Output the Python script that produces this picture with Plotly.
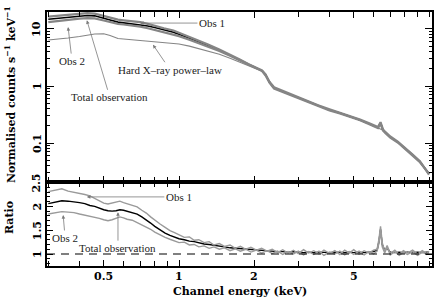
import math
import plotly.graph_objects as go

# ---------------- data ----------------
energy_top = [0.3, 0.33, 0.36, 0.4, 0.43, 0.46, 0.5, 0.53, 0.57, 0.6,
              0.65, 0.7, 0.75, 0.8, 0.87, 0.95, 1.0, 1.1, 1.2, 1.3,
              1.45, 1.6, 1.75, 1.9, 2.05, 2.15, 2.22, 2.3, 2.4, 2.6,
              2.8, 3.0, 3.3, 3.6, 4.0, 4.4, 4.8, 5.3, 5.8, 6.1,
              6.25, 6.4, 6.55, 6.7, 7.0, 7.5, 8.0, 8.6, 9.2, 10.0]

counts_total = [14.8, 15.5, 16.1, 16.9, 17.2, 17.0, 15.6, 14.4, 13.2, 12.8,
                12.4, 12.0, 11.3, 10.6, 9.7, 8.8, 8.1, 6.9, 5.9, 5.1,
                4.2, 3.45, 2.85, 2.35, 2.03, 1.85, 1.56, 1.17, 0.92, 0.80,
                0.70, 0.62, 0.52, 0.455, 0.38, 0.336, 0.298, 0.254, 0.215, 0.195,
                0.186, 0.225, 0.168, 0.152, 0.127, 0.104, 0.082, 0.062, 0.047, 0.029]

counts_obs1 = [16.5, 17.2, 17.9, 18.7, 19.0, 18.6, 16.8, 15.6, 14.6, 14.2,
               13.7, 13.2, 12.3, 11.3, 10.3, 9.4, 8.6, 7.3, 6.3, 5.4,
               4.35, 3.55, 2.92, 2.40, 2.08, 1.88, 1.60, 1.19, 0.95, 0.82,
               0.72, 0.63, 0.535, 0.46, 0.39, 0.34, 0.305, 0.258, 0.22, 0.198,
               0.19, 0.232, 0.172, 0.155, 0.13, 0.106, 0.084, 0.063, 0.048, 0.028]

counts_obs2 = [13.2, 13.9, 14.4, 15.2, 15.5, 15.3, 14.1, 13.1, 12.3, 12.0,
               11.5, 11.0, 10.3, 9.6, 8.9, 8.15, 7.5, 6.5, 5.65, 4.95,
               4.1, 3.38, 2.8, 2.32, 2.0, 1.83, 1.53, 1.15, 0.90, 0.78,
               0.685, 0.61, 0.51, 0.448, 0.372, 0.331, 0.292, 0.25, 0.211, 0.192,
               0.183, 0.218, 0.165, 0.148, 0.124, 0.102, 0.080, 0.061, 0.046, 0.029]

counts_powerlaw = [6.41, 6.62, 6.95, 7.38, 7.78, 8.17, 8.25, 7.69, 6.79, 6.65,
                   6.49, 6.37, 6.21, 6.01, 5.8, 5.6, 5.45, 5.0, 4.55, 4.15,
                   3.6, 3.07, 2.62, 2.24, 1.98, 1.82, 1.54, 1.16, 0.91, 0.79,
                   0.69, 0.615, 0.515, 0.45, 0.377, 0.333, 0.295, 0.252, 0.213, 0.194,
                   0.185, 0.176, 0.167, 0.151, 0.126, 0.103, 0.081, 0.061, 0.046, 0.029]

energy_ratio = [0.30, 0.32, 0.34, 0.36, 0.38, 0.40, 0.42, 0.44, 0.46, 0.48,
                0.50, 0.52, 0.54, 0.56, 0.58, 0.60, 0.62, 0.65, 0.68, 0.71,
                0.74, 0.77, 0.80, 0.84, 0.88, 0.92, 0.96, 1.00, 1.05, 1.10,
                1.15, 1.20, 1.26, 1.32, 1.38, 1.45, 1.52, 1.60, 1.68, 1.76,
                1.85, 1.94, 2.04, 2.14, 2.25, 2.36, 2.48, 2.60, 2.73, 2.87,
                3.00, 3.15, 3.30, 3.46, 3.63, 3.80, 4.00, 4.20, 4.40, 4.60,
                4.80, 5.00, 5.25, 5.50, 5.75, 6.00, 6.20, 6.30, 6.40, 6.50,
                6.65, 6.80, 7.00, 7.30, 7.60, 7.90, 8.20, 8.60, 9.00, 9.40,
                9.80, 10.00]

ratio_total = [2.06, 2.09, 2.12, 2.11, 2.10, 2.08, 2.06, 2.02, 2.00, 1.96,
               1.93, 1.91, 1.90, 1.91, 1.93, 1.92, 1.90, 1.88, 1.84, 1.78,
               1.72, 1.65, 1.58, 1.50, 1.44, 1.39, 1.35, 1.32, 1.30, 1.27,
               1.26, 1.23, 1.21, 1.20, 1.18, 1.16, 1.15, 1.13, 1.12, 1.12,
               1.10, 1.09, 1.08, 1.07, 1.07, 1.06, 1.05, 1.05, 1.04, 1.05,
               1.04, 1.03, 1.04, 1.03, 1.04, 1.03, 1.03, 1.04, 1.03, 1.03,
               1.04, 1.03, 1.04, 1.03, 1.04, 1.05, 1.08, 1.25, 1.52, 1.20,
               1.08, 1.12, 1.04, 1.03, 1.04, 1.03, 1.04, 1.03, 1.04, 1.03,
               1.04, 1.04]

ratio_obs1 = [2.31, 2.34, 2.37, 2.32, 2.30, 2.28, 2.25, 2.22, 2.17, 2.12,
              2.07, 2.05, 2.07, 2.09, 2.11, 2.08, 2.06, 2.02, 1.99, 1.92,
              1.86, 1.78, 1.71, 1.63, 1.56, 1.49, 1.45, 1.41, 1.35, 1.36,
              1.29, 1.30, 1.24, 1.26, 1.19, 1.22, 1.16, 1.19, 1.12, 1.16,
              1.10, 1.14, 1.08, 1.12, 1.06, 1.10, 1.03, 1.09, 1.02, 1.08,
              1.01, 1.09, 1.02, 1.07, 1.00, 1.08, 1.01, 1.07, 0.99, 1.08,
              1.02, 1.09, 1.00, 1.07, 1.02, 1.08, 1.10, 1.30, 1.58, 1.24,
              1.06, 1.18, 1.01, 1.08, 0.99, 1.07, 1.02, 1.08, 1.00, 1.07,
              1.01, 1.06]

ratio_obs2 = [1.84, 1.86, 1.89, 1.88, 1.87, 1.84, 1.82, 1.79, 1.77, 1.75,
              1.72, 1.70, 1.72, 1.75, 1.78, 1.76, 1.73, 1.71, 1.66, 1.62,
              1.57, 1.52, 1.46, 1.40, 1.35, 1.31, 1.27, 1.24, 1.25, 1.19,
              1.20, 1.15, 1.17, 1.12, 1.15, 1.10, 1.13, 1.07, 1.11, 1.06,
              1.10, 1.04, 1.08, 1.02, 1.07, 1.01, 1.06, 0.99, 1.05, 1.00,
              1.06, 0.98, 1.05, 0.99, 1.06, 0.97, 1.04, 1.00, 1.06, 0.98,
              1.05, 0.99, 1.06, 0.98, 1.05, 1.00, 1.06, 1.22, 1.48, 1.15,
              1.02, 1.14, 0.98, 1.05, 0.97, 1.04, 0.99, 1.05, 0.97, 1.04,
              0.99, 1.03]

x_tick_vals = [0.5, 1, 2, 5]
x_tick_text = ["0.5", "1", "2", "5"]
x_minor_vals = [0.3, 0.4, 0.6, 0.7, 0.8, 0.9, 3, 4, 6, 7, 8, 9, 10]
y_tick_vals = [0.1, 1, 10]
y_tick_text = ["0.1", "1", "10"]
y_minor_vals = [0.03, 0.04, 0.05, 0.06, 0.07, 0.08, 0.09,
                0.2, 0.3, 0.4, 0.5, 0.6, 0.7, 0.8, 0.9,
                2, 3, 4, 5, 6, 7, 8, 9]
r_tick_vals = [1, 1.5, 2, 2.5]
r_tick_text = ["1", "1.5", "2", "2.5"]

# ---------------- figure ----------------
GRAY = "#858585"
LGRAY = "#9a9a9a"
fig = go.Figure()

fig.add_trace(go.Scatter(x=energy_top, y=counts_powerlaw, mode="lines",
                         line=dict(color=GRAY, width=1.1), xaxis="x", yaxis="y"))
fig.add_trace(go.Scatter(x=energy_top, y=counts_total, mode="lines",
                         line=dict(color="black", width=1.6), xaxis="x", yaxis="y"))
fig.add_trace(go.Scatter(x=energy_top, y=counts_obs1, mode="lines",
                         line=dict(color=GRAY, width=2.2), xaxis="x", yaxis="y"))
fig.add_trace(go.Scatter(x=energy_top, y=counts_obs2, mode="lines",
                         line=dict(color=GRAY, width=2.2), xaxis="x", yaxis="y"))

fig.add_trace(go.Scatter(x=energy_ratio, y=ratio_total, mode="lines",
                         line=dict(color="black", width=1.4), xaxis="x2", yaxis="y2"))
fig.add_trace(go.Scatter(x=energy_ratio, y=ratio_obs1, mode="lines",
                         line=dict(color=LGRAY, width=1.4), xaxis="x2", yaxis="y2"))
fig.add_trace(go.Scatter(x=energy_ratio, y=ratio_obs2, mode="lines",
                         line=dict(color=LGRAY, width=1.4), xaxis="x2", yaxis="y2"))

tickfont = dict(family="DejaVu Serif", size=11, color="black", weight="bold")
axis_common = dict(showline=True, linecolor="black", linewidth=1.5, mirror="ticks",
                   ticks="inside", tickcolor="black", tickwidth=1, showgrid=False,
                   zeroline=False, tickfont=tickfont, automargin=False)

xrange = [-0.528, 1.012]
split = 84 / 254

fig.update_layout(
    width=436, height=300,
    margin=dict(l=47, r=4, t=12, b=34),
    paper_bgcolor="white", plot_bgcolor="white",
    showlegend=False,
    xaxis=dict(axis_common, domain=[0, 1], anchor="y", type="log", range=xrange,
               tickvals=x_tick_vals, showticklabels=False, ticklen=6,
               minor=dict(tickvals=x_minor_vals, ticks="inside", ticklen=5, tickcolor="black")),
    xaxis2=dict(axis_common, domain=[0, 1], anchor="y2", type="log", range=xrange,
                matches="x", tickvals=x_tick_vals, showticklabels=False, ticklen=6,
                minor=dict(tickvals=x_minor_vals, ticks="inside", ticklen=5, tickcolor="black")),
    yaxis=dict(axis_common, domain=[split, 1], anchor="x", type="log", range=[-1.684, 1.298],
               tickvals=y_tick_vals, showticklabels=False, ticklen=7,
               minor=dict(tickvals=y_minor_vals, ticks="inside", ticklen=3, tickcolor="black")),
    yaxis2=dict(axis_common, domain=[0, split], anchor="x2", range=[0.748, 2.513],
                tickvals=r_tick_vals, showticklabels=False, ticklen=6,
                minor=dict(dtick=0.1, ticks="inside", ticklen=3, tickcolor="black")),
)

# tick labels placed at the axis scale positions
for v, t in zip(x_tick_vals, x_tick_text):
    fig.add_annotation(x=math.log10(v), y=-0.043, xref="x2", yref="paper", text=t,
                       showarrow=False, xanchor="center", yanchor="middle", font=tickfont)
for v, t in zip(y_tick_vals, y_tick_text):
    fig.add_annotation(x=-0.026, y=math.log10(v), xref="paper", yref="y", text=t,
                       textangle=-90, showarrow=False, xanchor="center", yanchor="middle",
                       font=tickfont)
for v, t in zip(r_tick_vals, r_tick_text):
    fig.add_annotation(x=-0.026, y=v, xref="paper", yref="y2", text=t,
                       textangle=-90, showarrow=False, xanchor="center", yanchor="middle",
                       font=tickfont)

# dashed unity line in the ratio panel
fig.add_shape(type="line", xref="x2 domain", yref="y2", x0=0, x1=1, y0=1, y1=1,
              line=dict(color="black", width=1.2, dash="8px,6px"))

# axis titles
title_font = dict(family="DejaVu Serif", size=11, color="black", weight="bold")
fig.add_annotation(xref="paper", yref="paper", x=-0.096, y=0.673, textangle=-90,
                   xanchor="center", yanchor="middle",
                   text="Normalised counts s<sup>\u22121</sup> keV<sup>\u22121</sup>",
                   showarrow=False, font=title_font)
fig.add_annotation(xref="paper", yref="paper", x=-0.096, y=0.189, textangle=-90,
                   xanchor="center", yanchor="middle",
                   text="Ratio", showarrow=False, font=title_font)
fig.add_annotation(xref="paper", yref="paper", x=0.501, y=-0.102,
                   xanchor="center", yanchor="middle",
                   text="Channel energy (keV)", showarrow=False, font=title_font)

# labels with arrows
lab_font = dict(family="Liberation Serif", size=11, color="#222222")
def label(text, e, v, ax, ay, xa, ya, log_y):
    fig.add_annotation(x=math.log10(e), y=math.log10(v) if log_y else v,
                       xref=xa, yref=ya, text=text, showarrow=True,
                       ax=ax, ay=ay, arrowhead=2, arrowsize=0.9, arrowwidth=0.8,
                       arrowcolor="#7a7a7a", font=lab_font, borderpad=1)

label("Obs 1", 0.698, 12.7, 72, 0, "x", "y", True)
label("Obs 2", 0.36, 10.8, 4, 34, "x", "y", True)
label("Total observation", 0.428, 14.2, 23, 77, "x", "y", True)
label("Hard X\u2013ray power\u2013law", 0.787, 5.3, 17, 25, "x", "y", True)

label("Obs 1", 0.428, 2.20, 92, 0, "x2", "y2", False)
label("Obs 2", 0.344, 1.82, 2, 23, "x2", "y2", False)
label("Total observation", 0.570, 1.88, 0, 36, "x2", "y2", False)

fig.write_html("out.html", config={"displayModeBar": False},
               post_script="document.body.style.margin='0';")
